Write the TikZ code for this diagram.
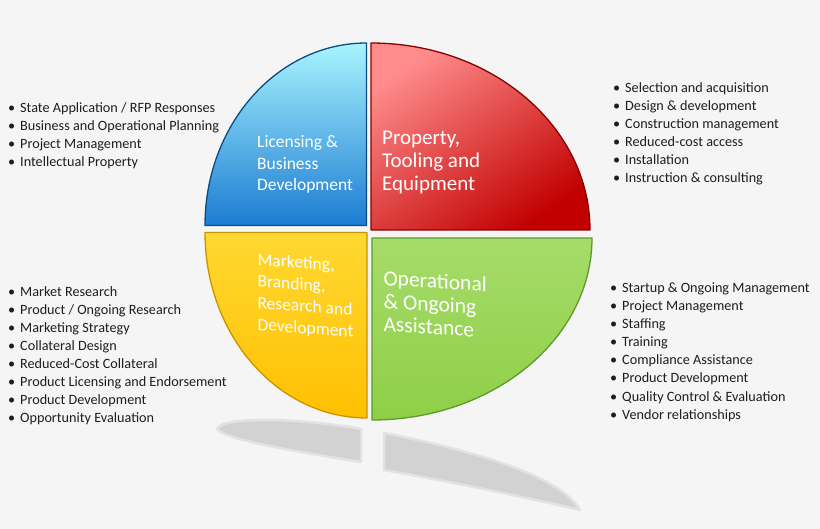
\documentclass[tikz,border=0pt]{standalone}
\usepackage{fontspec}
\setmainfont{Carlito}
\definecolor{bg}{HTML}{F5F5F5}
\definecolor{txt}{HTML}{1E1E1E}
\definecolor{shad}{HTML}{D2D2D2}
\definecolor{bluetop}{HTML}{A8F4FF}
\definecolor{bluemid}{HTML}{40ACEC}
\definecolor{bluebot}{HTML}{1C7CD2}
\definecolor{blueedge}{HTML}{0B4B86}
\definecolor{redtop}{HTML}{FF8C8C}
\definecolor{redmid}{HTML}{EC1C1C}
\definecolor{redbot}{HTML}{C20000}
\definecolor{rededge}{HTML}{8A0000}
\definecolor{yeltop}{HTML}{FFD832}
\definecolor{yelbot}{HTML}{FFC000}
\definecolor{yeledge}{HTML}{C89400}
\definecolor{grntop}{HTML}{A6DC6A}
\definecolor{grnbot}{HTML}{8ECF47}
\definecolor{grnedge}{HTML}{5E9A2A}
\newcommand\itembul{\llap{\textbullet\hspace{5pt}}}
\begin{document}
\begin{tikzpicture}[x=1pt,y=-1pt,
  item/.style={anchor=base west, inner sep=0pt, text=txt, font=\fontsize{14.2}{18}\selectfont},
  lab/.style={anchor=west, inner sep=0pt, text=white, align=left},
  labline/.style={anchor=base west, inner sep=0pt, text=white},
  quad/.style={line width=1.3pt, line join=round},
  shadow/.style={fill=shad, draw=shad!55!bg, line width=2.5pt, line join=round}]
\fill[bg] (0,0) rectangle (820,529);
\useasboundingbox (0,0) rectangle (820,529);

% shadows
\path[shadow] (217,429) .. controls (222,416) and (300,418) .. (361,429) -- (361,462)
  .. controls (300,452) and (225,440) .. (217,429) -- cycle;
\path[shadow] (384,433) .. controls (470,450) and (560,475) .. (580,510)
  .. controls (560,505) and (470,485) .. (384,470) -- cycle;

% quadrants
\shadedraw[quad, draw=blueedge, top color=bluetop, middle color=bluemid, bottom color=bluebot]
  (366.5,225.5) -- (205,225.5) arc[start angle=180, end angle=270, x radius=161.5, y radius=182.5] -- cycle;
\shadedraw[quad, draw=rededge, top color=redtop, middle color=redmid, bottom color=redbot, shading angle=35]
  (371,230) -- (371,43) arc[start angle=270, end angle=360, x radius=219, y radius=187] -- cycle;
\shadedraw[quad, draw=yeledge, top color=yeltop, bottom color=yelbot]
  (367,232.5) -- (367,418) arc[start angle=90, end angle=180, x radius=162, y radius=185.5] -- cycle;
\shadedraw[quad, draw=grnedge, top color=grntop, bottom color=grnbot]
  (372,238) -- (592,238) arc[start angle=0, end angle=90, x radius=220, y radius=182] -- cycle;

% quadrant labels
\node[lab, font=\fontsize{17.5}{21.7}\selectfont] (lblblue) at (257,164.5) {Licensing \&\\Business\\Development};
\node[lab, font=\fontsize{21}{23}\selectfont] (lblred) at (382,162.5) {Property,\\Tooling and\\Equipment};
\begin{scope}[labline, font=\fontsize{17.5}{21}\selectfont]
  \node[labline, yslant=-0.075] (lblyel1) at (257.3,265) {Marketing,};
  \node[labline, yslant=-0.075] (lblyel2) at (257.3,286.7) {Branding,};
  \node[labline, yslant=-0.075] (lblyel3) at (257.3,308.3) {Research and};
  \node[labline, yslant=-0.075] (lblyel4) at (257.3,330) {Development};
\end{scope}
\begin{scope}[font=\fontsize{21.5}{24}\selectfont]
  \node[labline, yslant=-0.065] (lblgrn1) at (383.3,285) {Operational};
  \node[labline, yslant=-0.065] (lblgrn2) at (383.3,308) {\& Ongoing};
  \node[labline, yslant=-0.065] (lblgrn3) at (383.3,331) {Assistance};
\end{scope}

% lists
\foreach \t [count=\i] in {{State Application / RFP Responses},{Business and Operational Planning},{Project Management},{Intellectual Property}}
  \node[item] (tl\i) at (20,{112.5+18*(\i-1)}) {\itembul\t};
\foreach \t [count=\i] in {{Selection and acquisition},{Design \& development},{Construction management},{Reduced-cost access},{Installation},{Instruction \& consulting}}
  \node[item] (tr\i) at (625,{92.5+18*(\i-1)}) {\itembul\t};
\foreach \t [count=\i] in {{Market Research},{Product / Ongoing Research},{Marketing Strategy},{Collateral Design},{Reduced-Cost Collateral},{Product Licensing and Endorsement},{Product Development},{Opportunity Evaluation}}
  \node[item] (bl\i) at (20,{297+17.95*(\i-1)}) {\itembul\t};
\foreach \t [count=\i] in {{Startup \& Ongoing Management},{Project Management},{Staffing},{Training},{Compliance Assistance},{Product Development},{Quality Control \& Evaluation},{Vendor relationships}}
  \node[item] (br\i) at (622,{292.5+18.1*(\i-1)}) {\itembul\t};
\end{tikzpicture}
\end{document}
